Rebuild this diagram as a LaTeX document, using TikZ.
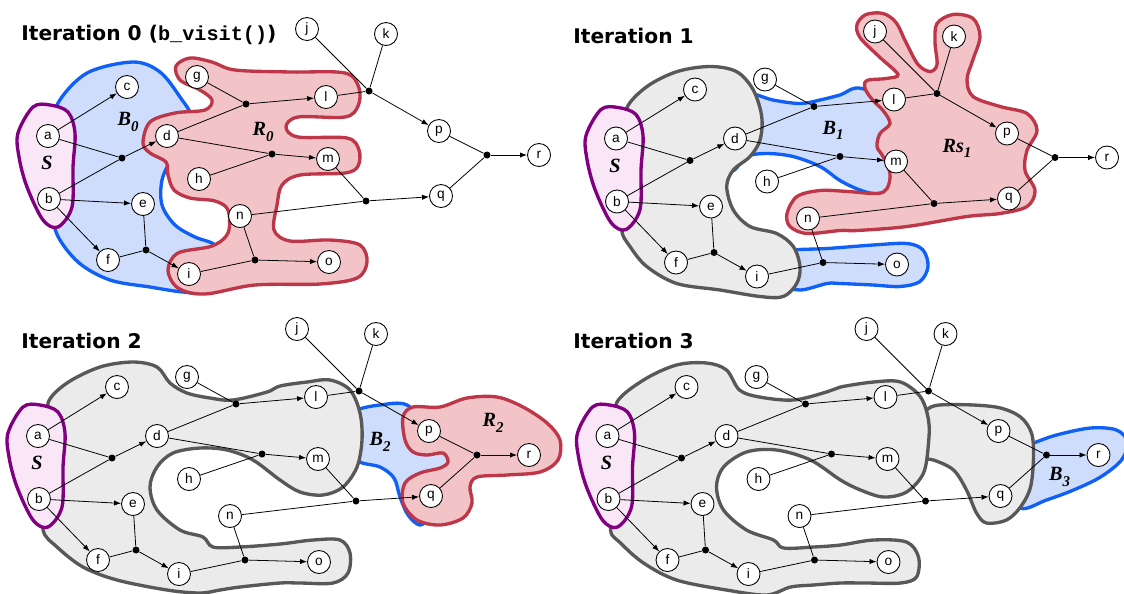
\documentclass[tikz,border=0pt]{standalone}
\usepackage{fontspec}
\setmainfont{Liberation Serif}
\newfontfamily\titlefont{DejaVu Sans}
\newfontfamily\codefont{Liberation Mono}
\newfontfamily\letterfont{Liberation Sans}
\usetikzlibrary{arrows.meta}
\definecolor{bline}{RGB}{16,96,245}
\definecolor{bfill}{RGB}{206,221,252}
\definecolor{rline}{RGB}{190,55,72}
\definecolor{rfill}{RGB}{242,196,200}
\definecolor{gline}{RGB}{88,88,88}
\definecolor{gfill}{RGB}{235,235,235}
\definecolor{sline}{RGB}{128,0,128}
\definecolor{sfill}{RGB}{249,230,246}
\tikzset{
 vnode/.style={circle,draw,line width=0.5pt,fill=white,minimum size=0.46cm,inner sep=0pt,font=\letterfont\fontsize{7.8}{8}\selectfont},
 jdot/.style={circle,fill=black,minimum size=0.14cm,inner sep=0pt},
 edge/.style={line width=0.45pt},
 arr/.style={edge,-{Latex[length=4pt,width=3pt]}},
 blueblob/.style={draw=bline,fill=bfill,line width=1.9pt},
 redblob/.style={draw=rline,fill=rfill,line width=1.9pt},
 grayblob/.style={draw=gline,fill=gfill,line width=1.9pt},
 sblob/.style={draw=sline,fill=sfill,line width=1.9pt},
 lbl/.style={font=\bfseries\itshape\fontsize{11.5}{12}\selectfont},
 ttl/.style={anchor=base west,inner sep=0pt,font=\titlefont\bfseries\fontsize{11.5}{13}\selectfont},
}
\newcommand\blobsub[1]{\raisebox{-0.28em}{\fontsize{8.5}{8}\selectfont #1}}
\newcommand\sregion{%
 \draw[sblob] plot[smooth cycle,tension=0.55] coordinates {(33,107) (50,105) (68,112) (75,133) (73,167) (72,207) (58,227) (43,220) (27,187) (19,157) (18,133)};
}
\newcommand\hypergraph[1]{%
 \foreach \n/\x/\y in {a/48/136,b/49/199,c/127/87,d/167/136,e/143/204,f/108/260,g/197/77,h/199/179,i/189/274,j/307/29,k/386/34,l/326/97,m/328/159,n/240/216,o/329/262,p/439/131,q/441/196,r/539/155}
   \node[vnode] (#1\n) at (\x,\y) {\n};
 \foreach \n/\x/\y in {1/122/158,2/146/250,3/246/104,4/272/154,5/255/260,6/369/91,7/366/201,8/487/155}
   \node[jdot] (#1J\n) at (\x,\y) {};
 \draw[arr] (#1a) -- (#1c);
 \draw[arr] (#1b) -- (#1e);
 \draw[arr] (#1b) -- (#1f);
 \draw[edge] (#1a) -- (#1J1); \draw[edge] (#1b) -- (#1J1); \draw[arr] (#1J1) -- (#1d);
 \draw[edge] (#1e) -- (#1J2); \draw[edge] (#1f) -- (#1J2); \draw[arr] (#1J2) -- (#1i);
 \draw[edge] (#1g) -- (#1J3); \draw[edge] (#1d) -- (#1J3); \draw[arr] (#1J3) -- (#1l);
 \draw[edge] (#1d) -- (#1J4); \draw[edge] (#1h) -- (#1J4); \draw[arr] (#1J4) -- (#1m);
 \draw[edge] (#1i) -- (#1J5); \draw[edge] (#1n) -- (#1J5); \draw[arr] (#1J5) -- (#1o);
 \draw[edge] (#1j) -- (#1J6); \draw[edge] (#1k) -- (#1J6); \draw[edge] (#1l) -- (#1J6); \draw[arr] (#1J6) -- (#1p);
 \draw[edge] (#1m) -- (#1J7); \draw[edge] (#1n) -- (#1J7); \draw[arr] (#1J7) -- (#1q);
 \draw[edge] (#1p) -- (#1J8); \draw[edge] (#1q) -- (#1J8); \draw[arr] (#1J8) -- (#1r);
}
\begin{document}
\begin{tikzpicture}[x=0.02cm,y=-0.02cm]
\useasboundingbox (0,0) rectangle (1124,593);
%% ---------------- Panel 0
\begin{scope}
 \draw[blueblob] plot[smooth cycle,tension=0.55] coordinates {(58,103) (87,73) (133,62) (160,72) (180,97) (192,118) (185,140) (172,158) (162,180) (162,205) (175,225) (195,237) (215,245) (222,262) (205,291) (183,292) (150,287) (110,280) (78,262) (56,232) (55,200) (55,130)};
 \draw[redblob] plot[smooth cycle,tension=0.55] coordinates {(176,66) (190,58) (212,62) (235,70) (290,72) (345,73) (359,88) (358,106) (345,117) (298,117) (286,127) (298,137) (347,138) (359,150) (358,166) (345,173) (300,175) (282,185) (277,205) (274,230) (290,241) (330,240) (360,245) (367,262) (357,278) (320,284) (255,285) (205,294) (178,288) (168,270) (178,253) (212,246) (228,233) (228,210) (215,201) (190,198) (174,190) (168,175) (166,162) (150,153) (143,143) (150,122) (175,113) (205,110) (212,100) (200,90) (180,80)};
 \sregion
 \hypergraph{P0}
 \node[lbl] (P0S) at (47,163) {S};
 \node[lbl] (P0B) at (128,122) {B\blobsub{0}};
 \node[lbl] (P0R) at (263,132) {R\blobsub{0}};
\end{scope}
%% ---------------- Panel 1
\begin{scope}[shift={(568,2.5)}]
 \draw[blueblob] plot[smooth cycle,tension=0.55] coordinates {(170,105) (180,91) (205,97.5) (232,101) (252,97.5) (272,92.5) (294,86) (340,110) (345,150) (335,185) (309,191) (292,187.5) (272,178) (252,164) (225,154) (199,151) (179,154) (165,168) (160,150)};
 \draw[blueblob] plot[smooth cycle,tension=0.55] coordinates {(215,252) (225,247.5) (259,246) (305,242.5) (339,241) (355,247.5) (360,264) (352,279) (332,284) (305,282.5) (272,281) (259,281) (232,287.5) (215,280)};
 \draw[grayblob] plot[smooth cycle,tension=0.55] coordinates {(58.7,105.8) (78.7,84.2) (108.7,69.2) (142,64) (168.7,69.2) (185.3,87.5) (193.7,114) (192,137.5) (182,154) (165.3,167.5) (158.7,184) (165.3,207.5) (182,224) (208.7,231) (225.3,244) (232,264) (228.7,281) (215.3,294) (192,294) (152,287.5) (108.7,281) (78.7,264) (62,244) (53.7,227.5) (60,200) (62,130)};
 \draw[redblob] plot[smooth cycle,tension=0.55] coordinates {(299,78) (318,76) (330,72) (312,55) (292,35) (289,22) (298,12) (315,11) (328,20) (338,40) (350,62) (362,69) (369,62) (367,40) (369,21) (385,12) (405,16) (412,34) (405,57) (399,77) (405,94) (432,104) (459,111) (469,128) (459,148) (457,168) (467,188) (459,204) (432,211) (399,214) (339,224) (289,228) (272,228) (239,231) (222,224) (219,211) (229,194) (252,188) (280,189) (309,191) (319,186) (322,171) (315,154) (309,144) (312,131) (322,121) (315,108) (305,98) (297,86)};
 \sregion
 \hypergraph{P1}
 \node[lbl] (P1S) at (47,163) {S};
 \node[lbl] (P1B) at (265,128) {B\blobsub{1}};
 \node[lbl] (P1R) at (389,146) {Rs\blobsub{1}};
\end{scope}
%% ---------------- Panel 2
\begin{scope}[shift={(-10,300)}]
 \draw[blueblob] plot[smooth cycle,tension=0.55] coordinates {(360,120) (367,110) (390,105) (417,105) (440,130) (460,162) (455,190) (440,215) (430,225) (418,215) (410,197) (404,178) (390,167) (370,162) (360,150)};
 \draw[grayblob] plot[smooth cycle,tension=0.55] coordinates {(58,103) (77,83) (110,67) (143,62) (167,67) (180,83) (197,93) (220,98) (243,100) (277,92) (290,86) (317,82) (340,80) (360,90) (370,113) (372,140) (367,167) (353,187) (333,195) (310,192) (290,180) (263,160) (237,150) (210,148) (183,153) (167,167) (160,187) (167,210) (190,230) (213,237) (223,247) (250,247) (290,244) (323,240) (350,240) (360,253) (358,273) (343,283) (310,283) (290,283) (250,287) (230,290) (210,293) (177,290) (127,280) (93,267) (67,247) (53,230) (60,200) (62,130)};
 \draw[redblob] plot[smooth cycle,tension=0.55] coordinates {(413,117) (423,107) (450,107) (477,98) (507,97) (533,107) (557,123) (570,140) (568,160) (550,172) (517,175) (487,177) (480,187) (482,203) (473,218) (450,225) (427,220) (413,203) (415,183) (430,173) (450,168) (458,162) (453,153) (437,155) (423,152) (415,140)};
 \sregion
 \hypergraph{P2}
 \node[lbl] (P2S) at (47,163) {S};
 \node[lbl] (P2B) at (390,142) {B\blobsub{2}};
 \node[lbl] (P2R) at (503,123) {R\blobsub{2}};
\end{scope}
%% ---------------- Panel 3
\begin{scope}[shift={(559.5,300)}]
 \draw[blueblob] plot[smooth cycle,tension=0.55] coordinates {(455,150) (474,143) (497,135) (531,128) (557,130) (568,142) (562,160) (541,177) (514,190) (487,200) (461,208) (450,180)};
 \draw[grayblob] plot[smooth cycle,tension=0.55] coordinates {(355,125) (367,110) (380,105) (414,105) (441,108) (461,117) (472,133) (474,157) (471,187) (461,207) (447,220) (427,223) (417,213) (407,190) (394,170) (374,160) (360,158) (352,145)};
 \draw[grayblob] plot[smooth cycle,tension=0.55] coordinates {(57,103) (84,80) (117,65) (147,63) (167,70) (180,90) (200,97) (234,100) (267,92) (281,87) (314,82) (341,82) (361,97) (369,120) (369,143) (364,173) (347,192) (324,197) (301,190) (281,180) (251,160) (217,150) (187,152) (164,167) (157,187) (164,210) (187,230) (214,240) (224,248) (254,247) (281,245) (314,240) (347,242) (359,257) (357,277) (341,283) (307,283) (281,283) (254,285) (231,287) (207,295) (167,290) (117,280) (84,263) (61,243) (51,230) (60,200) (62,130)};
 \sregion
 \hypergraph{P3}
 \node[lbl] (P3S) at (47,163) {S};
 \node[lbl] (P3B) at (500,177) {B\blobsub{3}};
\end{scope}
%% ---------------- Titles
\node[ttl] (T0) at (21,40) {Iteration 0 ({\codefont b\_visit()})};
\node[ttl] (T1) at (573,43) {Iteration 1};
\node[ttl] (T2) at (21,348) {Iteration 2};
\node[ttl] (T3) at (573,348) {Iteration 3};
\end{tikzpicture}
\end{document}
